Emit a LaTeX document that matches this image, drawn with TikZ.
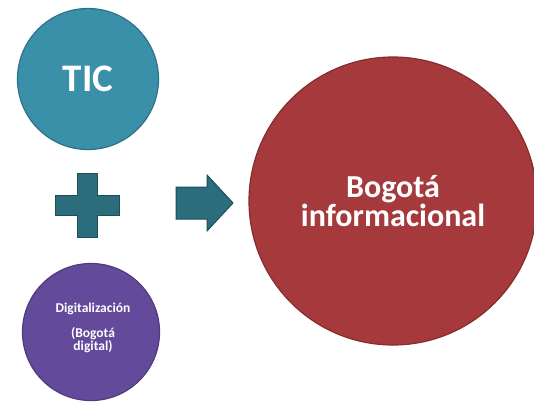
\documentclass[tikz,border=0pt]{standalone}
\usepackage{fontspec}
\setmainfont{Carlito}
\begin{document}
\begin{tikzpicture}[x=1pt,y=-1pt,
  bubble/.style={circle,inner sep=0pt,text=white,align=center,font=\bfseries,
    draw=#1!80!black,line width=1.2pt},
  symbolshape/.style={fill=tealdark,draw=tealedge,line width=1pt,line join=miter}]
\definecolor{ticblue}{HTML}{3A8FA9}
\definecolor{digpurple}{HTML}{644A9B}
\definecolor{bogred}{HTML}{A5393B}
\definecolor{tealdark}{HTML}{2B6C7D}
\definecolor{tealedge}{HTML}{1D4E5A}
\useasboundingbox (0,0) rectangle (534,404);

% the three circles
\node[bubble=ticblue,fill=ticblue,minimum size=141pt,font=\bfseries\fontsize{39}{40}\selectfont]
  (tic) at (88,79) {TIC};
\node[bubble=digpurple,fill=digpurple,minimum size=137pt]
  (dig) at (91,332) {};
\node[text=white,font=\bfseries,align=center,inner sep=0pt] (digtext) at (93,328)
  {\fontsize{13.5}{15}\selectfont Digitalización\\[12pt]
    \fontsize{13.5}{14}\selectfont (Bogotá\\ \fontsize{13.5}{14}\selectfont digital)};
\node[bubble=bogred,fill=bogred,minimum size=288pt]
  (bog) at (393,201) {\fontsize{32}{31}\selectfont Bogotá\\ \fontsize{32}{31}\selectfont informacional};

% plus sign between the two left circles
\coordinate (plus) at (87,205);
\path[symbolshape]
  ([shift={(-10,-32)}]plus) -- ([shift={(10,-32)}]plus) -- ([shift={(10,-10)}]plus)
  -- ([shift={(32,-10)}]plus) -- ([shift={(32,10)}]plus) -- ([shift={(10,10)}]plus)
  -- ([shift={(10,32)}]plus) -- ([shift={(-10,32)}]plus) -- ([shift={(-10,10)}]plus)
  -- ([shift={(-32,10)}]plus) -- ([shift={(-32,-10)}]plus) -- ([shift={(-10,-10)}]plus) -- cycle;

% block arrow pointing at the result
\coordinate (arr) at (176,203);
\path[symbolshape]
  ([shift={(0,-16)}]arr) -- ([shift={(31,-16)}]arr) -- ([shift={(31,-28)}]arr)
  -- ([shift={(57,0)}]arr) -- ([shift={(31,28)}]arr) -- ([shift={(31,16)}]arr)
  -- ([shift={(0,16)}]arr) -- cycle;
\end{tikzpicture}
\end{document}
